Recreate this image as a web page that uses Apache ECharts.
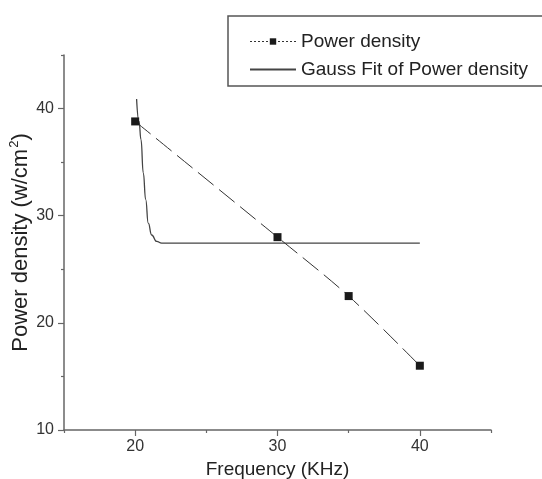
<!DOCTYPE html>
<html>
<head>
<meta charset="utf-8">
<script src="https://cdn.jsdelivr.net/npm/echarts@6/dist/echarts.min.js"></script>
<style>
    html, body { margin: 0; padding: 0; background: #fff; }
    #main { width: 542px; height: 479px; }
</style>
</head>
<body>
<div id="main"></div>
<script>
// measured points (frequency in KHz, power density in w/cm2)
var freq = [20, 30, 35, 40];
var power = [38.8, 28.0, 22.5, 16.0];

// gauss fit curve
var fitX = [20.1, 20.27, 20.41, 20.57, 20.74, 20.92, 21.16, 21.51, 21.86, 25, 30, 35, 40];
var fitY = [40.9, 38.8, 37.1, 34.0, 31.5, 29.3, 28.2, 27.6, 27.45, 27.45, 27.45, 27.45, 27.45];

var xMajor = [20, 30, 40];
var xMinor = [15, 25, 35, 45];
var yMajor = [10, 20, 30, 40];
var yMinor = [15, 25, 35, 45];

var myChart = echarts.init(document.getElementById('main'));
var font = 'Liberation Sans';
var axisColor = '#666';
var textColor = '#222';

function zip(a, b) {
    return a.map(function (v, i) { return [v, b[i]]; });
}

option = {
    animation: false,
    backgroundColor: '#fff',
    textStyle: { fontFamily: font },
    grid: {
        left: 64,
        right: 51,
        top: 55,
        bottom: 49,
        outerBoundsMode: 'none'
    },
    legend: {
        orient: 'vertical',
        left: 228,
        top: 16,
        padding: [16, 30, 7, 21],
        itemWidth: 46,
        itemHeight: 8,
        itemGap: 9,
        borderColor: '#555',
        borderWidth: 1.5,
        textStyle: { fontSize: 19, color: textColor, fontFamily: font },
        data: [
            { name: 'Power density', lineStyle: { type: [2, 2], width: 1 } },
            // the fit has no marker, so hide the legend dot
            { name: 'Gauss Fit of Power density', itemStyle: { opacity: 0 } }
        ]
    },
    xAxis: [{
        type: 'value',
        position: 'bottom',
        min: 15,
        max: 45,
        interval: 5,
        name: 'Frequency (KHz)',
        nameLocation: 'middle',
        nameGap: 30,
        nameMoveOverlap: false,
        nameTextStyle: { fontSize: 19, color: textColor, fontFamily: font },
        splitLine: { show: false },
        axisLine: { lineStyle: { color: axisColor, width: 1.5 } },
        axisTick: { customValues: xMajor, length: 6, lineStyle: { color: axisColor, width: 1.2 } },
        axisLabel: { customValues: xMajor, margin: 9, fontSize: 16, color: '#333' }
    }, {
        type: 'value',
        position: 'bottom',
        min: 15,
        max: 45,
        interval: 5,
        splitLine: { show: false },
        axisLine: { show: false },
        axisTick: { customValues: xMinor, length: 3, lineStyle: { color: axisColor, width: 1.2 } },
        axisLabel: { show: false }
    }],
    yAxis: [{
        type: 'value',
        position: 'left',
        min: 10,
        max: 45,
        interval: 5,
        name: 'Power density (w/cm{sup|2})',
        nameLocation: 'middle',
        nameGap: 30,
        nameMoveOverlap: false,
        nameTextStyle: {
            fontSize: 22,
            color: textColor,
            fontFamily: font,
            rich: {
                sup: { fontSize: 13, color: textColor, fontFamily: font, verticalAlign: 'bottom', padding: [0, 0, 13, 1] }
            }
        },
        splitLine: { show: false },
        axisLine: { show: true, lineStyle: { color: axisColor, width: 1.5 } },
        axisTick: { show: true, customValues: yMajor, length: 6, lineStyle: { color: axisColor, width: 1.2 } },
        axisLabel: { customValues: yMajor, margin: 10, fontSize: 16, color: '#333' }
    }, {
        type: 'value',
        position: 'left',
        min: 10,
        max: 45,
        interval: 5,
        splitLine: { show: false },
        axisLine: { show: false },
        axisTick: { show: true, customValues: yMinor, length: 3, lineStyle: { color: axisColor, width: 1.2 } },
        axisLabel: { show: false }
    }],
    series: [{
        name: 'Power density',
        type: 'line',
        data: zip(freq, power),
        smooth: 0.3,
        symbol: 'rect',
        symbolSize: 8,
        itemStyle: { color: '#1a1a1a' },
        lineStyle: { color: '#333', width: 1, type: [20, 7] },
        z: 3
    }, {
        name: 'Gauss Fit of Power density',
        type: 'line',
        data: zip(fitX, fitY),
        symbol: 'none',
        smooth: 0.5,
        smoothMonotone: 'x',
        itemStyle: { color: '#444' },
        lineStyle: { color: '#444', width: 1.3 },
        z: 2
    }]
};
myChart.setOption(option);
</script>
</body>
</html>
